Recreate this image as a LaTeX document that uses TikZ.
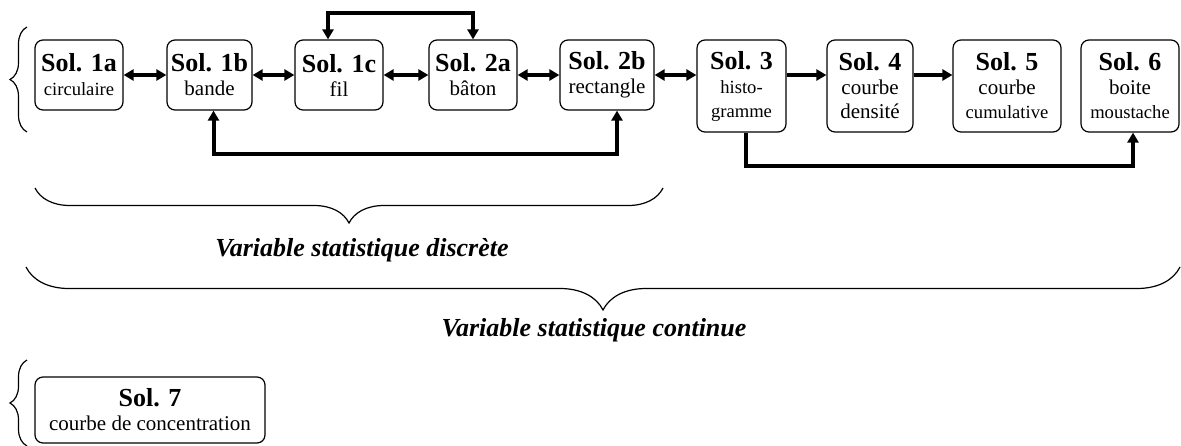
\documentclass[tikz,border=0pt]{standalone}
\usepackage{fontspec}
\setmainfont{Liberation Serif}
\usetikzlibrary{arrows.meta,decorations.pathreplacing}

\newcommand{\soltit}[1]{{\fontsize{13}{13}\selectfont\bfseries #1}}
\newcommand{\petit}{\fontsize{9.3}{12}\selectfont}

\begin{document}
\begin{tikzpicture}[x=0.5pt,y=-0.5pt,
  sol/.style={draw,line width=0.6pt,rounded corners=4pt,align=center,inner sep=0pt,font=\fontsize{10.5}{12}\selectfont},
  dbl/.style={line width=2pt,{Triangle[length=5pt,width=5.5pt]}-{Triangle[length=5pt,width=5.5pt]}},
  sgl/.style={line width=2pt,-{Triangle[length=5pt,width=5.5pt]}},
  acc/.style={decorate,decoration={brace,amplitude=#1},line width=0.6pt},
  lbl/.style={font=\fontsize{13}{14}\selectfont\bfseries\itshape}]
  \useasboundingbox (0,0) rectangle (1181,445);
  % discrete solutions
  \node[sol,minimum width=44pt,minimum height=35pt] (s1a) at (79,75) {\soltit{Sol. 1a}\\\petit circulaire};
  \node[sol,minimum width=42.5pt,minimum height=35pt] (s1b) at (209.5,75) {\soltit{Sol. 1b}\\bande};
  \node[sol,minimum width=44pt,minimum height=35pt] (s1c) at (339,75) {\soltit{Sol. 1c}\\fil};
  \node[sol,minimum width=44pt,minimum height=35pt] (s2a) at (473,75) {\soltit{Sol. 2a}\\bâton};
  \node[sol,minimum width=47pt,minimum height=35pt] (s2b) at (607,75) {\soltit{Sol. 2b}\\rectangle};
  % continuous solutions
  \node[sol,minimum width=44.5pt,minimum height=46pt] (s3) at (741.5,86) {\soltit{Sol. 3}\\\petit histo-\\\petit gramme};
  \node[sol,minimum width=43pt,minimum height=46pt] (s4) at (870,86) {\soltit{Sol. 4}\\courbe\\densité};
  \node[sol,minimum width=54pt,minimum height=46pt] (s5) at (1007,86) {\soltit{Sol. 5}\\courbe\\\petit cumulative};
  \node[sol,minimum width=49pt,minimum height=46pt] (s6) at (1130,86) {\soltit{Sol. 6}\\boite\\\petit moustache};
  % concentration
  \node[sol,minimum width=115pt,minimum height=33pt] (s7) at (150,410) {\soltit{Sol. 7}\\courbe de concentration};
  % links
  \draw[dbl] (s1a) -- (s1b);
  \draw[dbl] (s1b) -- (s1c);
  \draw[dbl] (s1c) -- (s2a);
  \draw[dbl] (s2a) -- (s2b);
  \draw[dbl] (s2b.east) -- (s3.west |- s2b.east);
  \draw[sgl] (s3.east |- s2b.east) -- (s4.west |- s2b.east);
  \draw[sgl] (s4.east |- s2b.east) -- (s5.west |- s2b.east);
  \draw[dbl] ([xshift=-5.5pt]s1c.north) -- ++(0,-26) -| (s2a.north);
  \draw[dbl] ([xshift=2pt]s1b.south) -- ++(0,43) -| ([xshift=5pt]s2b.south);
  \draw[sgl] ([xshift=2pt]s3.south) -- ++(0,33) -| ([xshift=1.5pt]s6.south);
  % braces
  \draw[acc=8.5pt] (27,132) -- (27,27);
  \draw[acc=8.5pt] (27,446) -- (27,360);
  \draw[acc=17.5pt] (663,188) -- (35,188);
  \draw[acc=21.5pt] (1180,267) -- (26,267);
  \node[lbl] (disc) at (362,250) {Variable statistique discrète};
  \node[lbl] (cont) at (594,330) {Variable statistique continue};
\end{tikzpicture}
\end{document}
